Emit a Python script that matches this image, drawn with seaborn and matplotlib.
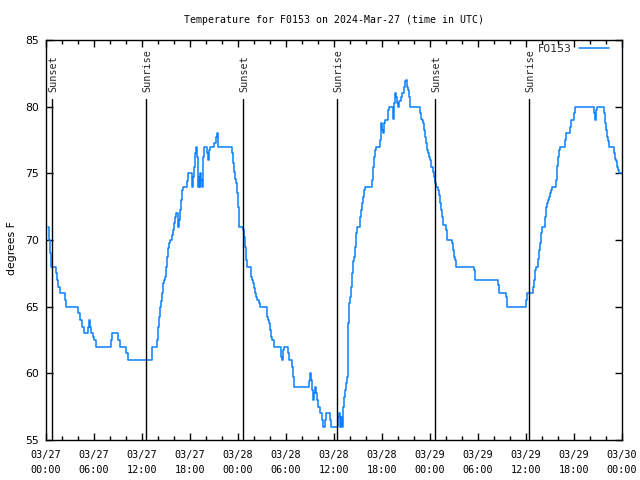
import matplotlib
matplotlib.use("Agg")
import matplotlib.pyplot as plt
import seaborn as sns
import pandas as pd
from matplotlib.ticker import MultipleLocator

# ---------------- data ----------------
title = "Temperature for F0153 on 2024-Mar-27 (time in UTC)"
series_name = "F0153"
y_label = "degrees F"

# hours since 2024-03-27 00:00 UTC
hours = [
    0.20, 0.375, 0.50, 0.67, 1.21, 1.33, 1.50, 1.71, 2.33, 2.50,
    4.04, 4.25, 4.54, 4.75, 5.29, 5.42, 5.54, 5.67, 5.875, 6.00,
    6.21, 8.08, 8.29, 9.00, 9.21, 10.04, 10.25, 13.29, 13.83, 13.96,
    14.08, 14.25, 14.375, 14.50, 14.625, 14.75, 14.875, 15.00, 15.125, 15.25,
    15.375, 15.50, 15.75, 15.875, 16.00, 16.125, 16.25, 16.46, 16.625, 16.75,
    16.875, 17.00, 17.08, 17.58, 17.71, 17.79, 18.21, 18.29, 18.42, 18.54,
    18.67, 18.79, 18.92, 19.04, 19.125, 19.21, 19.29, 19.42, 19.54, 19.625,
    19.79, 20.125, 20.25, 20.375, 20.54, 21.04, 21.21, 21.33, 21.46, 21.54,
    23.20, 23.33, 23.50, 23.625, 23.75, 23.875, 24.00, 24.125, 24.625, 24.75,
    24.875, 25.00, 25.08, 25.625, 25.75, 25.875, 26.00, 26.125, 26.25, 26.375,
    26.625, 26.75, 27.625, 27.75, 27.875, 28.00, 28.125, 28.29, 28.50, 29.42,
    29.54, 29.67, 29.79, 30.25, 30.375, 30.79, 30.92, 31.04, 32.92, 33.04,
    33.17, 33.29, 33.42, 33.54, 33.67, 33.79, 33.92, 34.04, 34.25, 34.46,
    34.67, 34.875, 35.04, 35.54, 35.67, 36.50, 36.625, 36.75, 36.875, 36.96,
    37.08, 37.21, 37.33, 37.46, 37.58, 37.71, 37.79, 37.92, 38.04, 38.17,
    38.29, 38.42, 38.54, 38.67, 38.79, 38.92, 39.25, 39.375, 39.50, 39.625,
    39.75, 39.92, 40.71, 40.83, 40.96, 41.08, 41.21, 41.75, 41.875, 42.00,
    42.125, 42.25, 42.375, 42.79, 42.92, 43.375, 43.50, 43.625, 43.75, 43.875,
    44.04, 44.17, 44.33, 44.50, 44.75, 44.875, 44.96, 45.08, 45.21, 45.33,
    45.46, 46.79, 46.92, 47.04, 47.17, 47.29, 47.42, 47.54, 47.67, 47.79,
    47.92, 48.04, 48.17, 48.375, 48.50, 48.625, 48.75, 49.00, 49.17, 49.29,
    49.42, 49.54, 49.67, 49.96, 50.125, 50.75, 50.875, 51.00, 51.125, 51.21,
    53.54, 53.67, 56.54, 56.67, 57.50, 57.625, 60.00, 60.125, 60.875, 61.00,
    61.125, 61.25, 61.54, 61.67, 61.79, 61.92, 62.04, 62.42, 62.54, 62.67,
    62.79, 62.92, 63.04, 63.17, 63.29, 63.75, 63.83, 63.96, 64.08, 64.21,
    64.92, 65.04, 65.54, 65.67, 66.04, 66.17, 68.54, 68.67, 68.79, 68.92,
    69.75, 69.875, 70.00, 70.125, 70.25, 70.375, 71.04, 71.17, 71.29, 71.42,
    71.54, 71.67, 72.00,
]
temps = [
    71.0, 70.0, 69.0, 68.0, 67.5, 67.0, 66.5, 66.0, 65.5, 65.0,
    64.5, 64.0, 63.5, 63.0, 63.5, 64.0, 63.5, 63.0, 62.75, 62.5,
    62.0, 62.5, 63.0, 62.5, 62.0, 61.5, 61.0, 62.0, 62.5, 63.5,
    64.25, 65.0, 65.4, 66.0, 66.75, 67.0, 67.25, 68.0, 68.75, 69.4,
    69.75, 70.0, 70.4, 70.75, 71.25, 71.75, 72.0, 71.0, 71.5, 72.25,
    73.0, 73.75, 74.0, 74.4, 74.75, 75.0, 74.4, 74.0, 74.75, 75.5,
    76.5, 77.0, 76.25, 74.0, 74.75, 74.0, 75.0, 74.5, 74.0, 76.25,
    77.0, 76.5, 76.0, 76.75, 77.0, 77.25, 77.75, 78.0, 77.25, 77.0,
    76.5, 75.75, 75.1, 74.6, 74.25, 73.5, 72.5, 71.0, 70.75, 70.25,
    69.5, 68.5, 68.0, 67.25, 67.0, 66.75, 66.4, 66.0, 65.75, 65.5,
    65.25, 65.0, 64.25, 64.0, 63.75, 63.25, 62.75, 62.5, 62.0, 61.25,
    61.0, 61.75, 62.0, 61.5, 61.0, 60.5, 59.75, 59.0, 59.4, 60.0,
    59.5, 58.75, 58.0, 58.5, 59.0, 58.5, 58.0, 57.5, 57.0, 56.5,
    56.0, 56.5, 57.0, 56.5, 56.0, 56.75, 57.0, 56.0, 56.75, 56.0,
    57.5, 58.25, 58.75, 59.25, 59.75, 61.25, 63.75, 65.25, 65.75, 66.5,
    67.5, 68.4, 68.75, 69.5, 70.5, 71.0, 71.75, 72.25, 72.75, 73.25,
    73.75, 74.0, 74.5, 75.5, 76.25, 76.75, 77.0, 77.5, 78.75, 78.25,
    78.0, 78.75, 79.0, 79.75, 80.0, 79.1, 80.25, 81.0, 80.75, 80.25,
    80.0, 80.4, 80.75, 81.0, 81.5, 81.9, 82.0, 81.5, 81.25, 80.75,
    80.0, 79.5, 79.1, 79.0, 78.75, 78.25, 77.75, 77.25, 76.75, 76.5,
    76.25, 76.0, 75.5, 75.1, 74.75, 74.25, 74.0, 73.75, 73.4, 72.75,
    72.25, 71.75, 71.1, 70.75, 70.0, 69.75, 69.25, 68.75, 68.5, 68.0,
    67.75, 67.0, 66.6, 66.0, 65.75, 65.0, 65.5, 66.0, 66.5, 67.0,
    67.75, 68.0, 68.6, 69.25, 69.75, 70.5, 71.0, 71.75, 72.5, 72.75,
    73.0, 73.25, 73.5, 73.75, 74.0, 74.5, 75.55, 76.25, 76.75, 77.0,
    77.5, 78.0, 78.5, 79.0, 79.5, 80.0, 79.5, 79.0, 79.75, 80.0,
    79.5, 78.75, 78.25, 77.75, 77.4, 77.0, 76.5, 76.1, 75.9, 75.5,
    75.25, 75.0, 75.0,
]

event_hours = [0.78, 12.54, 24.66, 36.42, 48.66, 60.42]
event_labels = ["Sunset", "Sunrise", "Sunset", "Sunrise", "Sunset", "Sunrise"]

x_tick_hours = [0, 6, 12, 18, 24, 30, 36, 42, 48, 54, 60, 66, 72]
x_tick_labels = [
    "03/27\n00:00", "03/27\n06:00", "03/27\n12:00", "03/27\n18:00",
    "03/28\n00:00", "03/28\n06:00", "03/28\n12:00", "03/28\n18:00",
    "03/29\n00:00", "03/29\n06:00", "03/29\n12:00", "03/29\n18:00",
    "03/30\n00:00",
]
y_ticks = [55, 60, 65, 70, 75, 80, 85]

# ---------------- style ----------------
sns.set_theme(style="ticks")
plt.rcParams["font.family"] = ["DejaVu Sans"]
line_color = "#0a80ff"

fig = plt.figure(figsize=(6.4, 4.8), dpi=100)
ax = fig.add_axes([46 / 640, 40 / 480, 576 / 640, 400 / 480])

df = pd.DataFrame({"hour": hours, "temp": temps})
sns.lineplot(data=df, x="hour", y="temp", ax=ax, color=line_color, lw=1.1,
             drawstyle="steps-post", estimator=None, sort=False,
             label=series_name)

for h, lab in zip(event_hours, event_labels):
    ax.axvline(h, ymin=0, ymax=0.8525, color="black", lw=1.0)
    ax.text(h + 0.1, 0.87, lab, transform=ax.get_xaxis_transform(),
            rotation=90, ha="center", va="bottom", fontsize=7.3,
            family="DejaVu Sans Mono")

ax.set_xlim(0, 72)
ax.set_ylim(55, 85)
ax.set_xticks(x_tick_hours)
ax.set_xticklabels(x_tick_labels, family="DejaVu Sans Mono", fontsize=7.3)
for lbl in ax.get_xticklabels():
    lbl.set_linespacing(1.6)
ax.xaxis.set_minor_locator(MultipleLocator(2))
ax.set_yticks(y_ticks)
ax.set_yticklabels([str(v) for v in y_ticks], fontsize=7.8)

ax.tick_params(which="major", direction="in", top=True, right=True,
               length=5, width=1, color="black", labelcolor="black")
ax.tick_params(axis="x", which="major", pad=7)
ax.tick_params(axis="y", which="major", pad=5)
ax.tick_params(which="minor", direction="in", top=True, right=False,
               length=3, width=1, color="black")
for sp in ax.spines.values():
    sp.set_visible(True)
    sp.set_color("black")
    sp.set_linewidth(1.0)

ax.set_xlabel("")
ax.set_ylabel(y_label, fontsize=7.8, color="black")
ax.yaxis.set_label_coords(-0.05, 0.48)

fig.text(334 / 640, 1 - 20 / 480, title, ha="center", va="center",
         fontsize=7.1, family="DejaVu Sans Mono", color="black")

ax.legend(loc="upper right", bbox_to_anchor=((609 - 46) / 576, (440 - 44) / 400),
          frameon=False, markerfirst=False, fontsize=7.8, handlelength=2.8,
          handletextpad=0.6, borderpad=0, borderaxespad=0)

fig.savefig("out.png", dpi=100, facecolor="white")
